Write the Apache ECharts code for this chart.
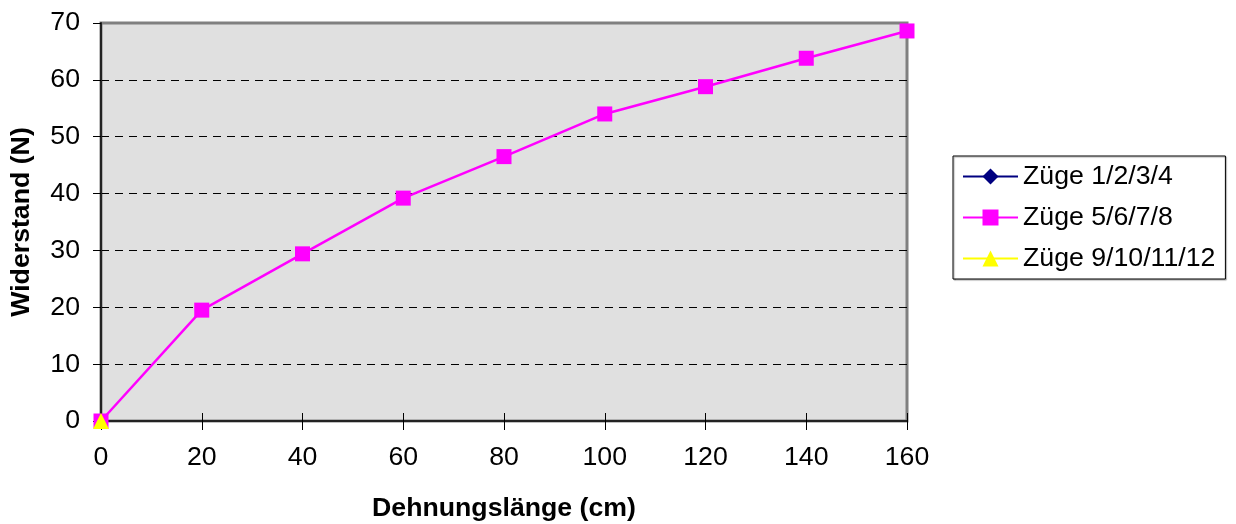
<!DOCTYPE html>
<html><head><meta charset="utf-8">
<script src="https://cdn.jsdelivr.net/npm/echarts@6/dist/echarts.min.js"></script>
<style>html,body{margin:0;padding:0;background:#fff}#c{width:1236px;height:524px}</style>
</head><body><div id="c"></div>
<script>
const xValues = [0, 20, 40, 60, 80, 100, 120, 140, 160];
const series1Name = 'Züge 1/2/3/4';
const series1X = [0];
const series1Y = [0];
const series2Name = 'Züge 5/6/7/8';
const series2Y = [0, 19.5, 29.4, 39.2, 46.5, 54.0, 58.8, 63.8, 68.6];
const series3Name = 'Züge 9/10/11/12';
const series3X = [0];
const series3Y = [0];
const xTitle = 'Dehnungslänge (cm)';
const yTitle = 'Widerstand (N)';

const font = 'Liberation Sans, Arial, sans-serif';
const fs = 26.7;
const chart = echarts.init(document.getElementById('c'));
const pair = (xs, ys) => xs.map((x, i) => [x, ys[i]]);
chart.setOption({
  animation: false,
  grid: {left: 101, right: 329, top: 23, bottom: 103, show: true, backgroundColor: '#e0e0e0', borderColor: '#808080', borderWidth: 3,
         containLabel: false, outerBoundsMode: 'none'},
  xAxis: [{
    type: 'value', min: 0, max: 160, interval: 20, position: 'bottom',
    name: xTitle, nameLocation: 'middle', nameGap: 74,
    nameTextStyle: {fontFamily: font, fontSize: fs, fontWeight: 'bold', color: '#000'},
    axisLine: {lineStyle: {color: '#222', width: 2}},
    axisTick: {show: true, inside: false, length: 9, lineStyle: {color: '#000', width: 1}},
    axisLabel: {fontFamily: font, fontSize: fs, color: '#000', margin: 23},
    splitLine: {show: false}
  }, {
    type: 'value', min: 0, max: 160, interval: 20, position: 'top', offset: -398,
    axisLine: {show: false},
    axisTick: {show: true, inside: false, length: 8, lineStyle: {color: '#000', width: 1}},
    axisLabel: {show: false},
    splitLine: {show: false}
  }],
  yAxis: {
    type: 'value', min: 0, max: 70, interval: 10,
    name: yTitle, nameLocation: 'middle', nameGap: 66,
    nameTextStyle: {fontFamily: font, fontSize: fs, fontWeight: 'bold', color: '#000'},
    axisLine: {lineStyle: {color: '#222', width: 2}},
    axisTick: {show: true, length: 8, lineStyle: {color: '#000', width: 1}},
    axisLabel: {fontFamily: font, fontSize: fs, color: '#000', margin: 21},
    splitLine: {show: true, showMaxLine: false, showMinLine: false, lineStyle: {color: '#000', type: [8, 6], width: 1}}
  },
  legend: {
    orient: 'vertical', left: 953, top: 156,
    padding: [7, 10, 7, 9],
    borderColor: '#000', borderWidth: 1, backgroundColor: '#fff',
    shadowColor: 'rgba(0,0,0,0.35)', shadowOffsetX: 1, shadowOffsetY: 1, shadowBlur: 1,
    itemWidth: 55, itemHeight: 20, itemGap: 14,
    textStyle: {fontFamily: font, fontSize: fs, color: '#000'},
    data: [series1Name, series2Name, series3Name]
  },
  series: [
    {name: series1Name, type: 'line', data: pair(series1X, series1Y), symbol: 'diamond', symbolSize: 14,
     itemStyle: {color: '#000080'}, lineStyle: {color: '#000080', width: 2.5}},
    {name: series2Name, type: 'line', data: pair(xValues, series2Y), symbol: 'rect', symbolSize: 15,
     itemStyle: {color: '#ff00ff'}, lineStyle: {color: '#ff00ff', width: 2.5}, z: 3},
    {name: series3Name, type: 'line', data: pair(series3X, series3Y), symbol: 'triangle', symbolSize: 16,
     itemStyle: {color: '#ffff00'}, lineStyle: {color: '#ffff00', width: 2.5}, z: 4}
  ]
});
</script></body></html>
